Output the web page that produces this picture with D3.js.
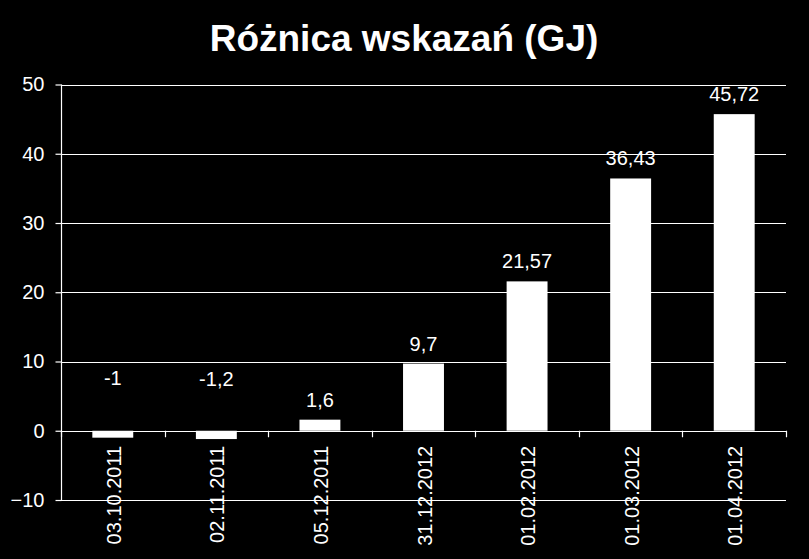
<!DOCTYPE html>
<html>
<head>
<meta charset="utf-8">
<script src="https://cdn.jsdelivr.net/npm/d3@7"></script>
<style>
html,body{margin:0;padding:0;background:#000;}
svg{display:block;}
text{font-family:"Liberation Sans",Arial,sans-serif;fill:#fff;}
</style>
</head>
<body>
<svg id="chart" width="809" height="559"></svg>
<script>
const categories = ["03.10.2011","02.11.2011","05.12.2011","31.12.2012","01.02.2012","01.03.2012","01.04.2012"];
const values = [-1, -1.2, 1.6, 9.7, 21.57, 36.43, 45.72];
const labels = ["-1","-1,2","1,6","9,7","21,57","36,43","45,72"];
const yTicks = [-10, 0, 10, 20, 30, 40, 50];
const title = "Różnica wskazań (GJ)";

(function () {
const svg = d3.select("#chart");
const W = 809, H = 559;
svg.append("rect").attr("width", W).attr("height", H).attr("fill", "#000");

const mLeft = 61, mRight = 786, mTop = 84.5, mBottom = 500;

const x = d3.scaleBand().domain(categories).range([mLeft, mRight]).paddingInner(0.605).paddingOuter(0.3025);
const xb = d3.scaleBand().domain(categories).range([mLeft, mRight]).padding(0);
const y = d3.scaleLinear().domain([-10, 50]).range([mBottom, mTop]);

// title
svg.append("text").attr("x", 404).attr("y", 51).attr("text-anchor", "middle")
  .style("font-size", "37px").style("font-weight", "bold").text(title);

// gridlines
svg.append("g").selectAll("line").data(yTicks).join("line")
  .attr("x1", mLeft).attr("x2", mRight)
  .attr("y1", d => Math.round(y(d)) + 0.5).attr("y2", d => Math.round(y(d)) + 0.5)
  .attr("stroke", "#fff").attr("stroke-width", 1.2);

// y axis
const yAxis = d3.axisLeft(y).tickValues(yTicks).tickSize(6).tickPadding(11).tickFormat(d3.format("d"));
const gy = svg.append("g").attr("transform", `translate(${mLeft + 0.5},0)`).call(yAxis);
gy.selectAll("path,line").attr("stroke", "#fff").attr("stroke-width", 1.2);
gy.select(".domain").attr("d", `M0,${y(50)}V${y(-10)}`);
gy.selectAll("text").style("font-size", "20px").style("font-family", "Liberation Sans, Arial, sans-serif").attr("fill", "#fff");

// category tick marks at zero line
const bounds = categories.map(c => xb(c)).concat([mRight]);
svg.append("g").selectAll("line").data(bounds).join("line")
  .attr("x1", d => Math.round(d) + 0.5).attr("x2", d => Math.round(d) + 0.5)
  .attr("y1", y(0)).attr("y2", y(0) + 6.5)
  .attr("stroke", "#fff").attr("stroke-width", 1.2);

// bars
svg.append("g").selectAll("rect").data(values).join("rect")
  .attr("x", (d, i) => x(categories[i]))
  .attr("width", x.bandwidth())
  .attr("y", d => y(Math.max(0, d)))
  .attr("height", d => Math.abs(y(d) - y(0)))
  .attr("fill", "#fff");

// data labels
svg.append("g").selectAll("text").data(values).join("text")
  .attr("x", (d, i) => xb(categories[i]) + xb.bandwidth() / 2)
  .attr("y", d => d >= 0 ? y(d) - 13 : y(d) - 53)
  .attr("text-anchor", "middle")
  .style("font-size", "20px")
  .text((d, i) => labels[i]);

// x labels
svg.append("g").selectAll("text").data(categories).join("text")
  .attr("transform", d => `translate(${xb(d) + xb.bandwidth() / 2 + 1},${y(0) + 15}) rotate(-90)`)
  .attr("text-anchor", "end")
  .attr("dy", "0.35em")
  .style("font-size", "20px")
  .text(d => d);
})();
</script>
</body>
</html>
